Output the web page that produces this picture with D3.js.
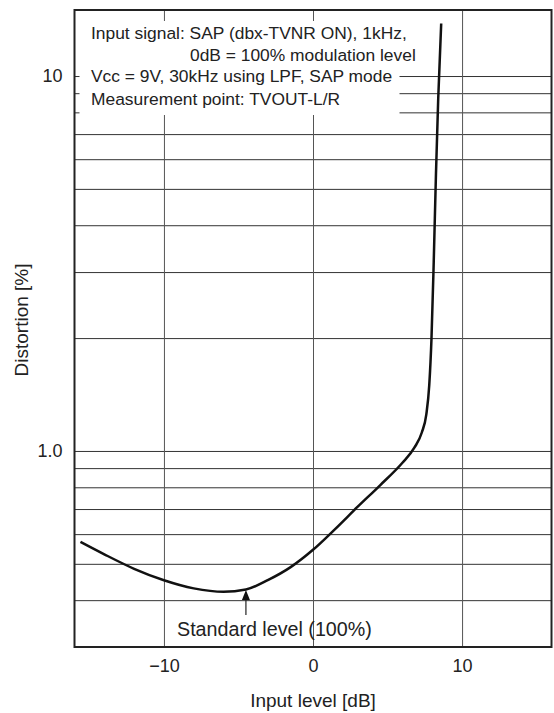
<!DOCTYPE html>
<html>
<head>
<meta charset="utf-8">
<script src="https://cdn.jsdelivr.net/npm/d3@7"></script>
<style>
  body { margin: 0; background: #fff; }
  text { font-family: "Liberation Sans", Arial, sans-serif; fill: #222; }
</style>
</head>
<body>
<svg id="chart"></svg>
<script>
const width = 554;
const height = 713;

// input level [dB] and distortion [%]
const inputLevel = [-15.6, -14, -12, -10, -8, -6, -4.5, -3, -1.5, 0, 1.5, 3, 4.5, 6, 6.8, 7.3, 7.6, 7.8, 7.95, 8.1, 8.25, 8.4, 8.6];
const distortion = [0.572, 0.53, 0.485, 0.452, 0.43, 0.421, 0.427, 0.453, 0.49, 0.545, 0.62, 0.71, 0.81, 0.93, 1.02, 1.12, 1.25, 1.5, 2.0, 3.2, 5.5, 8.7, 13.8];

const xTicks = [-10, 0, 10];
const yGrid = [0.4, 0.5, 0.6, 0.7, 0.8, 0.9, 1, 2, 3, 4, 5, 6, 7, 8, 9, 10];
const yLabels = { 1: "1.0", 10: "10" };

const notes = [
    "Input signal: SAP (dbx-TVNR ON), 1kHz,",
    "0dB = 100% modulation level",
    "Vcc = 9V, 30kHz using LPF, SAP mode",
    "Measurement point: TVOUT-L/R"
];
const standardLevel = -4.5;

const pLeft = 74.5, pRight = 551.5, pTop = 10, pBottom = 647;

const x = d3.scaleLinear().domain([-16, 16]).range([pLeft, pRight]);
const y = d3.scaleLog().domain([0.3, 15]).range([pBottom, pTop]);

const svg = d3.select("#chart")
    .attr("width", width)
    .attr("height", height);

// grid lines (axes with full length ticks)
const yAxis = svg.append("g")
    .attr("transform", `translate(${pLeft},0)`)
    .call(d3.axisLeft(y)
        .tickValues(yGrid)
        .tickSize(-(pRight - pLeft))
        .tickPadding(12)
        .tickFormat(d => yLabels[d] || ""));
yAxis.select(".domain").remove();
yAxis.selectAll(".tick line").attr("stroke", "#333").attr("stroke-width", 1);
yAxis.selectAll(".tick text").style("font-size", "18px").attr("fill", "#222");

const xAxis = svg.append("g")
    .attr("transform", `translate(0,${pBottom})`)
    .call(d3.axisBottom(x)
        .tickValues(xTicks)
        .tickSize(-(pBottom - pTop))
        .tickPadding(12)
        .tickFormat(d => d < 0 ? "\u2212" + Math.abs(d) : d));
xAxis.select(".domain").remove();
xAxis.selectAll(".tick line").attr("stroke", "#555").attr("stroke-width", 1);
xAxis.selectAll(".tick text").style("font-size", "18px").attr("fill", "#222");

// white box behind the conditions text
svg.append("rect")
    .attr("x", pLeft + 5).attr("y", pTop + 11)
    .attr("width", 320).attr("height", 94)
    .attr("fill", "#fff");

// frame
svg.append("rect")
    .attr("x", pLeft).attr("y", pTop)
    .attr("width", pRight - pLeft).attr("height", pBottom - pTop)
    .attr("fill", "none")
    .attr("stroke", "#222")
    .attr("stroke-width", 2);

// curve
const line = d3.line()
    .x((d, i) => x(inputLevel[i]))
    .y(d => y(d))
    .curve(d3.curveMonotoneX);

svg.append("path")
    .datum(distortion)
    .attr("d", line)
    .attr("fill", "none")
    .attr("stroke", "#111")
    .attr("stroke-width", 2.5);

// conditions text
const noteX = [91, 190, 91, 91];
const noteY = [39, 61, 82, 105];
svg.selectAll("text.note")
    .data(notes).enter()
    .append("text")
    .attr("class", "note")
    .attr("x", (d, i) => noteX[i])
    .attr("y", (d, i) => noteY[i])
    .style("font-size", "17.4px")
    .text(d => d);

// standard level arrow
const sx = x(standardLevel);
svg.append("line")
    .attr("x1", sx).attr("x2", sx)
    .attr("y1", 615).attr("y2", 598)
    .attr("stroke", "#222").attr("stroke-width", 1.2);
svg.append("path")
    .attr("d", `M${sx},590 L${sx - 4},600 L${sx + 4},600 Z`)
    .attr("fill", "#111");
svg.append("text")
    .attr("x", 177).attr("y", 636)
    .style("font-size", "19.7px")
    .text("Standard level (100%)");

// axis titles
svg.append("text")
    .attr("x", (pLeft + pRight) / 2).attr("y", 707)
    .attr("text-anchor", "middle")
    .style("font-size", "19px")
    .text("Input level [dB]");

svg.append("text")
    .attr("transform", `translate(28,320) rotate(-90)`)
    .attr("text-anchor", "middle")
    .style("font-size", "19px")
    .text("Distortion [%]");
</script>
</body>
</html>
